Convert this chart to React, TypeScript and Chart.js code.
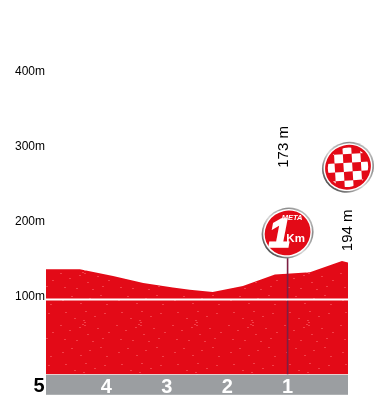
import React, { useEffect, useRef } from "react";
import { Chart, registerables } from "chart.js";

Chart.register(...registerables);

// Distance to the finish (km) and altitude (m) read from the profile
const profileKm = [5, 4.44, 3.89, 3.39, 2.9, 2.62, 2.24, 1.74, 1.21, 0.63, 0.1, 0];
const profileAltitude = [140, 140, 131, 122, 116, 113, 110, 118, 133, 136, 151, 149];
const altitudeTicks = [0, 100, 200, 300, 400, 500];
const kmTicks = [5, 4, 3, 2, 1];
const referenceAltitude = 100;
const metaKm = 1;
const metaLineTop = 175;
const metaLabel = "173 m";
const finishLabel = "194 m";

const FONT = '"Liberation Sans", Arial, sans-serif';
const RED = "#e30a17";

const speckles = [
  [6, 8], [15, 4], [24, 11], [33, 6], [44, 3], [50, 12], [9, 20], [18, 26], [29, 19], [38, 24], [48, 21],
  [4, 33], [13, 38], [23, 35], [31, 42], [41, 36], [52, 40], [8, 47], [20, 48], [36, 49], [46, 46],
  [27, 28], [28, 30], [26, 32], [28, 33],
];

function makeTexture(): CanvasPattern | string {
  const tile = document.createElement("canvas");
  tile.width = 56;
  tile.height = 52;
  const c = tile.getContext("2d");
  if (!c) return RED;
  c.fillStyle = RED;
  c.fillRect(0, 0, 56, 52);
  c.fillStyle = "#f23e47";
  speckles.forEach(([x, y]) => c.fillRect(x, y, 2, 1));
  return c.createPattern(tile, "repeat") || RED;
}

function disk(c: CanvasRenderingContext2D, x: number, y: number) {
  const g = c.createLinearGradient(x - 20, y + 20, x + 20, y - 20);
  g.addColorStop(0, "#4a4a4a");
  g.addColorStop(0.45, "#d8d8d8");
  g.addColorStop(0.8, "#8a8a8a");
  g.addColorStop(1, "#c8c8c8");
  c.fillStyle = g;
  c.beginPath();
  c.ellipse(x, y, 26.5, 25, -0.6, 0, Math.PI * 2);
  c.fill();
  c.fillStyle = "#ffffff";
  c.beginPath();
  c.ellipse(x, y, 24.8, 23.4, -0.6, 0, Math.PI * 2);
  c.fill();
  c.fillStyle = RED;
  c.beginPath();
  c.ellipse(x, y, 23.3, 22, -0.6, 0, Math.PI * 2);
  c.fill();
}

const decorations = {
  id: "decorations",
  beforeDraw(chart: any) {
    const { ctx: c, scales } = chart;
    const sx = scales.x;
    c.save();
    c.fillStyle = "#9b9ea1";
    c.fillRect(sx.getPixelForValue(5), sx.top + 0.3, sx.getPixelForValue(0) - sx.getPixelForValue(5), 20);
    c.restore();
  },
  afterDraw(chart: any) {
    const { ctx: c, scales } = chart;
    const sx = scales.x;
    const sy = scales.y;
    c.save();

    // distance label at the left end of the strip
    c.fillStyle = "#000";
    c.font = `bold 20px ${FONT}`;
    c.textAlign = "center";
    c.textBaseline = "middle";
    c.fillText("5", sx.getPixelForValue(5) - 7, sx.top + 11.5);

    // rotated altitude notes
    c.font = `15px ${FONT}`;
    [
      { km: 1.06, alt: 303, text: metaLabel },
      { km: 0, alt: 192, text: finishLabel },
    ].forEach(({ km, alt, text }) => {
      c.save();
      c.translate(sx.getPixelForValue(km), sy.getPixelForValue(alt));
      c.rotate(-Math.PI / 2);
      c.fillText(text, 0, 0);
      c.restore();
    });

    // 1 km badge
    const mx = sx.getPixelForValue(1);
    const my = sy.getPixelForValue(188.5);
    disk(c, mx, my);
    c.fillStyle = "#fff";
    c.strokeStyle = "#fff";
    c.font = `italic bold 7.5px ${FONT}`;
    c.fillText("META", mx + 4.5, my - 15);
    c.font = `italic bold 40px ${FONT}`;
    c.lineWidth = 1.6;
    c.fillText("1", mx - 8, my + 3);
    c.strokeText("1", mx - 8, my + 3);
    c.font = `bold 11.5px ${FONT}`;
    c.fillText("Km", mx + 8, my + 6);

    // finish badge
    const fx = sx.getPixelForValue(0);
    const fy = sy.getPixelForValue(276);
    disk(c, fx, fy);
    c.save();
    c.beginPath();
    c.ellipse(fx, fy, 20.5, 19.5, -0.6, 0, Math.PI * 2);
    c.clip();
    c.translate(fx, fy);
    c.rotate(-0.06);
    const size = 8.8;
    c.fillStyle = "#fff";
    for (let row = -3; row <= 3; row++) {
      for (let col = -3; col <= 3; col++) {
        if ((row + col + 6) % 2 === 0) c.fillRect(col * size - size / 2, row * size - size / 2, size, size);
      }
    }
    c.restore();
    c.restore();
  },
};

export default function App() {
  const ref = useRef<HTMLCanvasElement>(null);

  useEffect(() => {
    if (!ref.current) return;
    const chart = new Chart(ref.current, {
      type: "line",
      data: {
        datasets: [
          {
            label: "Línea 100 m",
            data: [5, 0].map((x) => ({ x, y: referenceAltitude })),
            borderColor: "#ffffff",
            borderWidth: 2,
            pointRadius: 0,
          },
          {
            label: "Meta 1 km",
            data: [0, metaLineTop].map((y) => ({ x: metaKm, y })),
            borderColor: "#7d1f42",
            borderWidth: 1.6,
            pointRadius: 0,
          },
          {
            label: "Perfil",
            data: profileKm.map((x, i) => ({ x, y: profileAltitude[i] })),
            borderWidth: 0,
            pointRadius: 0,
            fill: "origin",
            backgroundColor: makeTexture() as any,
          },
        ],
      },
      options: {
        animation: false,
        responsive: false,
        layout: { padding: { left: 0, right: 30, top: 19, bottom: 0 } },
        plugins: { legend: { display: false }, tooltip: { enabled: false } },
        scales: {
          x: {
            type: "linear",
            reverse: true,
            min: 0,
            max: 5,
            border: { display: false },
            grid: { display: false, drawTicks: false },
            afterFit: (s: any) => {
              s.height = 25.5;
            },
            afterBuildTicks: (s: any) => {
              s.ticks = kmTicks.map((value) => ({ value }));
            },
            ticks: {
              autoSkip: false,
              maxRotation: 0,
              padding: 1,
              color: "#ffffff",
              font: { family: FONT, size: 20, weight: "bold" },
              callback: (v: any) => (v === 5 ? "" : String(v)),
            },
          },
          y: {
            min: 0,
            max: 500,
            border: { display: false },
            grid: { display: false, drawTicks: false },
            afterFit: (s: any) => {
              s.width = 46;
            },
            afterBuildTicks: (s: any) => {
              s.ticks = altitudeTicks.map((value) => ({ value }));
            },
            ticks: {
              autoSkip: false,
              padding: 1,
              labelOffset: -2.5,
              color: "#000000",
              font: { family: FONT, size: 12 },
              callback: (v: any) => (v === 0 ? "" : `${v}m`),
            },
          },
        },
      },
      plugins: [decorations],
    } as any);
    return () => chart.destroy();
  }, []);

  return (
    <canvas
      ref={ref}
      width={378}
      height={420}
      style={{ position: "absolute", left: 0, top: -20, width: 378, height: 420, display: "block" }}
    />
  );
}
